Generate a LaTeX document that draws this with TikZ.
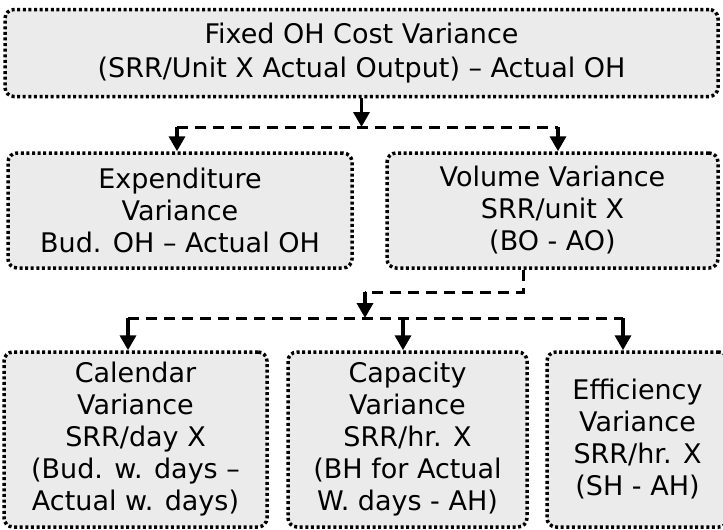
\documentclass[tikz,border=0pt]{standalone}
\usepackage{fontspec}
\setmainfont{DejaVu Sans}
\usetikzlibrary{arrows.meta}
\definecolor{boxfill}{RGB}{235,235,235}
\tikzset{
  varbox/.style={draw=black, fill=boxfill, line width=3.5pt, dash pattern=on 3pt off 2.6pt,
    rounded corners=9pt, align=center, inner sep=0pt,
    font=\fontsize{27}{32}\selectfont},
  dashline/.style={line width=3pt, dash pattern=on 11pt off 7pt},
  arr/.style={line width=3.5pt, -{Triangle[length=15pt,width=16pt]}}
}
\begin{document}
\begin{tikzpicture}[x=1pt,y=-1pt]
\useasboundingbox (0,0) rectangle (723,530);
\begin{scope}
\clip (0,0) rectangle (723,530);
\node[varbox, minimum width=713pt, minimum height=87pt,
  font=\fontsize{27}{34}\selectfont] (top) at (361.5,53)
  {Fixed OH Cost Variance\\(SRR/Unit X Actual Output) – Actual OH};
\node[varbox, minimum width=344pt, minimum height=115pt] (exp) at (180,210.5)
  {Expenditure\\Variance\\Bud. OH – Actual OH};
\node[varbox, minimum width=331pt, minimum height=115pt] (vol) at (552.5,210.5)
  {Volume Variance\\SRR/unit X\\(BO - AO)};
\node[varbox, minimum width=263pt, minimum height=175pt] (cal) at (135.5,439.5)
  {Calendar\\Variance\\SRR/day X\\(Bud. w. days –\\Actual w. days)};
\node[varbox, minimum width=239pt, minimum height=175pt] (cap) at (407.5,439.5)
  {Capacity\\Variance\\SRR/hr. X\\(BH for Actual\\W. days - AH)};
\node[varbox, minimum width=181pt, minimum height=175pt] (eff) at (637.5,439.5)
  {Efficiency\\Variance\\SRR/hr. X\\(SH - AH)};
\end{scope}
% first level
\coordinate (h1l) at (177,127);
\coordinate (h1r) at (558,127);
\draw[dashline] (h1l) -- (h1r);
\draw[arr] (top.south) -- (top.south |- h1l);
\draw[arr] (h1l) -- (h1l |- exp.north);
\draw[arr] (h1r) -- (h1r |- vol.north);
% second level
\coordinate (v1) at (523,292);
\coordinate (v2) at (365,292);
\coordinate (h2m) at (365,318);
\coordinate (h2l) at (128,318);
\coordinate (h2c) at (403,318);
\coordinate (h2r) at (623,318);
\draw[dashline] (vol.south -| v1) -- (v1) -- (v2);
\draw[arr] (v2) -- (h2m);
\draw[dashline] (h2l) -- (h2r);
\draw[dashline, dash phase=3pt, yshift=-1pt] (h2m) -- (h2r);
\draw[arr] (h2l) -- (h2l |- cal.north);
\draw[arr] (h2c) -- (h2c |- cap.north);
\draw[arr] (h2r) -- (h2r |- eff.north);
\end{tikzpicture}
\end{document}
